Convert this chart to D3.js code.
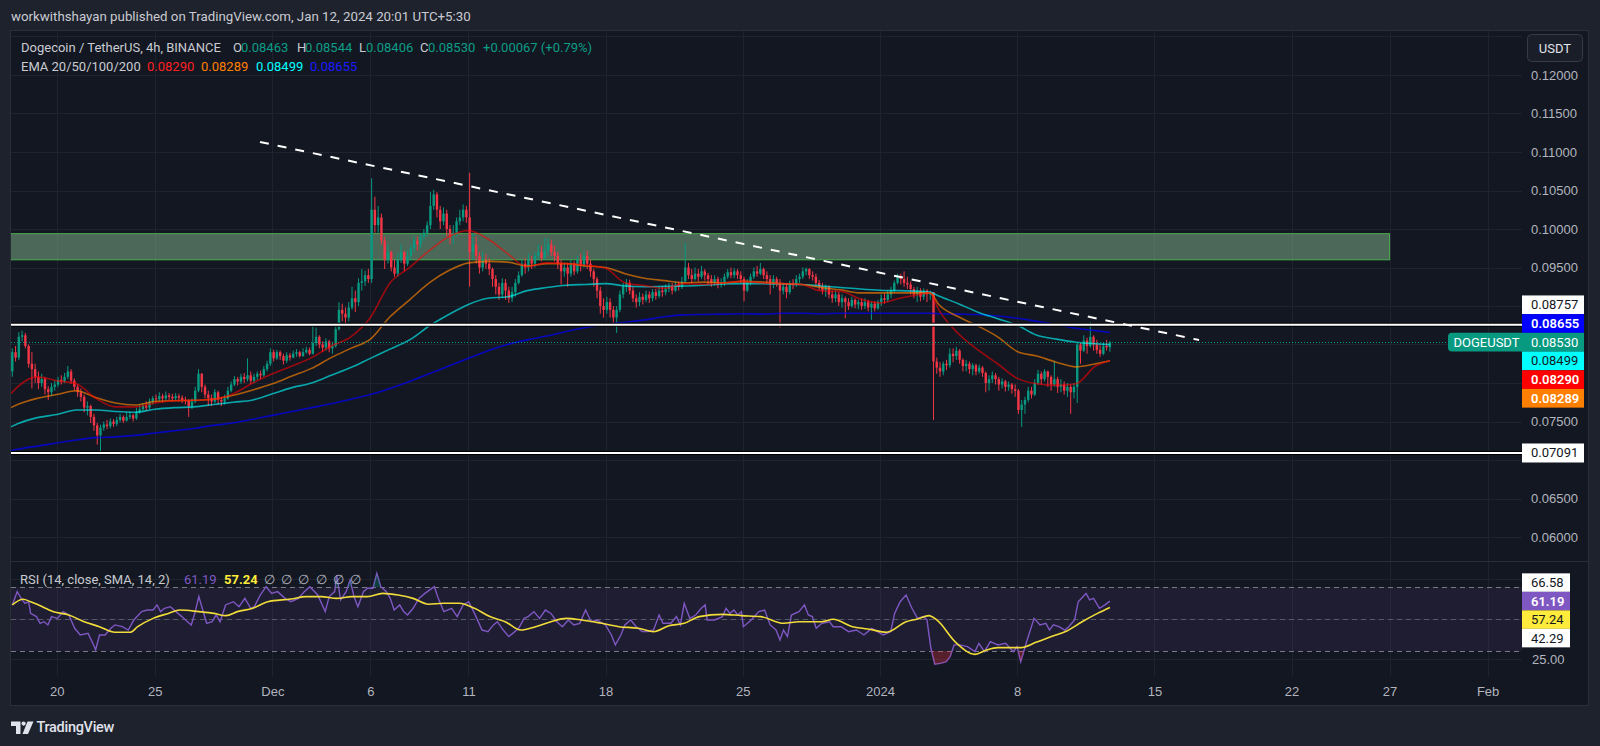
<!DOCTYPE html>
<html><head><meta charset="utf-8">
<script src="https://cdn.jsdelivr.net/npm/d3@7/dist/d3.min.js"></script>
<style>
html,body{margin:0;padding:0;background:#1e222d;overflow:hidden}
svg{display:block;font-family:Roboto,"Noto Sans",sans-serif}
</style></head><body>
<svg id="chart" width="1600" height="746"></svg>
<script>
// ---------------- DATA ----------------
// 4h candles, first bar opens 2023-11-17 17:30 (chart time). Prices in 1e-5 USDT.
const firstBar = Date.UTC(2023,10,17,17,30);
const barHours = 4;
const firstOpen = 8150;
const closes = [
8400,8330,8600,8620,8480,8250,8180,8080,8000,8050,
7920,7880,7950,7980,8040,8020,8080,8150,8030,7950,
7880,7820,7680,7700,7560,7450,7320,7420,7460,7440,
7500,7470,7520,7560,7510,7560,7580,7540,7620,7660,
7700,7680,7760,7800,7790,7830,7800,7840,7820,7800,
7830,7810,7780,7770,7700,7760,7900,8120,7950,7850,
7800,7760,7880,7780,7760,7800,7900,7980,8050,8020,
8080,8050,8100,8030,8080,8120,8100,8180,8250,8400,
8320,8400,8350,8290,8360,8330,8380,8400,8350,8400,
8430,8380,8520,8600,8500,8460,8540,8450,8480,8700,
8950,8900,8850,8980,9100,9050,9300,9320,9400,9350,
10250,10050,10150,9850,9600,9700,9500,9420,9600,9700,
9550,9650,9750,9850,9800,9900,9950,10050,10300,10450,
10250,10100,10200,10000,9900,9950,10100,10150,10250,10150,
9700,9800,9650,9500,9600,9550,9480,9350,9250,9150,
9300,9200,9100,9180,9300,9400,9550,9500,9600,9550,
9650,9700,9620,9720,9800,9700,9650,9550,9450,9500,
9420,9550,9450,9600,9520,9650,9550,9450,9350,9200,
9000,8950,9050,8950,8850,8950,9150,9250,9300,9200,
9100,9050,9120,9080,9150,9100,9180,9130,9200,9180,
9220,9250,9200,9280,9250,9320,9500,9400,9350,9420,
9380,9450,9400,9350,9300,9350,9280,9300,9380,9440,
9400,9450,9400,9350,9200,9300,9380,9450,9420,9480,
9400,9350,9280,9350,9300,9200,9250,9180,9300,9280,
9350,9380,9450,9480,9400,9380,9300,9250,9200,9250,
9150,9100,9150,9050,9100,9050,9000,9080,9020,9050,
9000,9050,8980,9030,8970,9050,9100,9080,9150,9200,
9300,9380,9350,9300,9280,9220,9150,9200,9120,9200,
9150,9180,8280,8200,8150,8250,8230,8380,8350,8420,
8300,8220,8250,8180,8230,8150,8200,8130,8000,8050,
8100,8050,7980,8020,7950,7980,7920,7900,7650,7720,
7780,7900,7850,8000,8120,8050,8150,8080,7980,8050,
7950,7980,7900,7950,7880,7950,8500,8420,8550,8480,
8600,8500,8430,8380,8480,8463,8530];
const highs = [
8450,8480,8660,8680,8650,8500,8400,8250,8150,8120,
8080,7960,8000,8030,8080,8100,8130,8220,8180,8060,
7980,7930,7850,7760,7720,7600,7480,7460,7500,7520,
7540,7530,7560,7600,7580,7620,7630,7600,7680,7720,
7740,7760,7800,7830,7850,7880,7860,7890,7870,7860,
7870,7860,7840,7820,7790,7800,7950,8180,8130,7980,
7900,7850,7920,7900,7820,7850,7950,8020,8090,8080,
8120,8130,8320,8150,8120,8150,8160,8220,8290,8450,
8430,8430,8420,8380,8400,8390,8420,8440,8420,8450,
8470,8460,8750,8720,8620,8540,8580,8560,8520,8760,
9050,9030,8980,9050,9250,9200,9360,9480,9460,9480,
10660,10420,10300,10200,9900,9800,9720,9600,9680,9800,
9720,9720,9800,9900,9900,9950,10000,10100,10480,10510,
10480,10300,10280,10250,10050,10050,10150,10250,10320,10300,
10730,9950,9900,9700,9700,9680,9620,9500,9400,9300,
9360,9350,9250,9250,9350,9450,9600,9620,9680,9650,
9700,9800,9780,9880,9880,9860,9780,9700,9600,9560,
9560,9600,9580,9650,9680,9700,9720,9600,9480,9380,
9250,9100,9120,9100,9000,9000,9200,9300,9350,9340,
9250,9150,9180,9160,9200,9190,9220,9220,9250,9260,
9280,9300,9300,9320,9320,9380,9820,9560,9480,9500,
9480,9520,9480,9430,9400,9400,9380,9360,9420,9480,
9500,9490,9480,9450,9380,9350,9420,9500,9520,9560,
9500,9450,9400,9400,9380,9350,9300,9300,9330,9350,
9400,9420,9500,9500,9490,9450,9420,9340,9300,9280,
9270,9200,9200,9180,9150,9120,9100,9120,9100,9080,
9100,9100,9080,9060,9060,9080,9150,9160,9200,9250,
9330,9420,9420,9450,9380,9320,9250,9250,9230,9230,
9220,9200,9180,8330,8270,8280,8300,8450,8450,8470,
8440,8320,8300,8280,8260,8250,8240,8220,8150,8100,
8150,8130,8080,8060,8040,8020,8000,7980,7920,7780,
7820,7950,7950,8050,8170,8150,8180,8160,8100,8280,
8080,8050,8020,8000,7980,8000,8530,8520,8620,8590,
8790,8620,8560,8500,8520,8560,8544];
const lows = [
8080,8280,8300,8540,8450,8200,7930,8000,7920,7950,
7850,7780,7830,7900,7950,7980,8000,8050,7990,7900,
7820,7760,7620,7580,7480,7380,7200,7110,7380,7400,
7410,7430,7440,7490,7480,7500,7530,7500,7520,7600,
7630,7640,7660,7720,7750,7760,7750,7770,7780,7760,
7770,7760,7740,7720,7560,7660,7740,7880,7880,7800,
7700,7700,7740,7720,7700,7720,7780,7880,7960,7970,
7990,8000,8020,7990,8000,8040,8050,8080,8150,8220,
8280,8300,8300,8240,8260,8290,8320,8340,8330,8340,
8380,8360,8370,8480,8450,8400,8420,8400,8380,8460,
8680,8800,8760,8800,8950,8920,9000,9200,9260,9300,
9300,9950,9950,9800,9480,9550,9450,9380,9380,9560,
9450,9520,9600,9700,9720,9750,9850,9900,10000,10250,
10150,10000,10050,9900,9800,9800,9900,10050,10100,10080,
9250,9600,9550,9420,9450,9480,9400,9250,9150,9080,
9100,9080,9040,9050,9120,9280,9380,9420,9450,9480,
9500,9600,9580,9600,9650,9650,9580,9480,9280,9380,
9250,9380,9400,9420,9450,9500,9480,9380,9250,9100,
8900,8850,8900,8850,8750,8650,8920,9100,9180,9150,
9050,8980,9000,9020,9050,9040,9060,9080,9100,9120,
9140,9180,9150,9180,9200,9220,9300,9350,9300,9330,
9320,9350,9330,9280,9250,9260,9230,9240,9260,9350,
9360,9360,9350,9300,9060,9180,9270,9350,9380,9400,
9350,9300,9150,9230,9250,8720,9150,9100,9150,9220,
9250,9300,9350,9400,9350,9330,9250,9200,9150,9120,
9100,9040,9050,9000,8980,8840,8950,8980,8970,8960,
8950,8960,8930,8820,8930,8950,9000,9030,9050,9100,
9180,9280,9280,9250,9220,9150,9100,9050,9060,9080,
9050,9080,7520,8120,8080,8100,8170,8200,8270,8300,
8250,8150,8150,8120,8100,8100,8120,8080,7880,7900,
8000,7980,7900,7930,7890,7900,7860,7820,7600,7430,
7600,7750,7800,7830,7980,7980,8020,7950,7900,7950,
7870,7880,7850,7820,7600,7800,7740,8250,8400,8380,
8460,8420,8380,8340,8360,8420,8406];

// EMA readings, sampled in days from 2024-01-01 00:00 (1e-5 USDT)
const emaDay = [-44.35,-44,-43,-42,-41,-40,-39,-38,-37,-36,-35,-34,-33,-32,-31,-30,-29,-28,-27,-26,-25,-24,-23,-22,-21,-20,-19,-18,-17,-16,-15,-14,-13,-12,-11,-10,-9,-8,-7,-6,-5,-4,-3,-2,-1,0,1,2,2.55,3,4,5,6,7,8,9,10,11,11.73];
const ema20 = [7860,7950,8080,8030,7990,7800,7690,7690,7740,7770,7775,7790,7860,8000,8120,8220,8330,8480,8600,8850,9300,9500,9720,9900,9980,9870,9680,9510,9560,9550,9530,9490,9300,9265,9230,9290,9280,9300,9320,9300,9290,9280,9195,9190,9090,9040,9100,9150,9170,8950,8640,8430,8250,8060,7990,7970,7990,8220,8290];
const ema50 = [7680,7720,7800,7850,7900,7810,7740,7715,7760,7770,7775,7790,7840,7910,7990,8090,8190,8330,8450,8570,8860,9080,9300,9460,9560,9580,9570,9520,9550,9550,9520,9500,9420,9360,9330,9300,9310,9300,9320,9310,9290,9280,9240,9210,9170,9170,9170,9170,9170,9020,8860,8740,8600,8410,8350,8270,8210,8250,8289];
const ema100 = [7430,7470,7550,7590,7650,7650,7630,7620,7660,7680,7690,7720,7750,7780,7860,7940,8000,8100,8200,8320,8440,8560,8740,8890,9020,9100,9120,9200,9240,9270,9280,9290,9260,9250,9255,9260,9270,9285,9290,9290,9285,9280,9260,9240,9220,9205,9200,9190,9180,9130,9030,8920,8835,8750,8620,8570,8530,8510,8499];
const ema200 = [7120,7140,7180,7220,7260,7290,7300,7320,7350,7380,7410,7450,7480,7530,7580,7630,7680,7730,7790,7850,7930,8020,8120,8220,8320,8420,8500,8560,8610,8670,8720,8760,8790,8820,8860,8885,8890,8895,8900,8895,8905,8905,8900,8905,8905,8905,8905,8905,8905,8900,8895,8890,8870,8840,8800,8760,8710,8680,8655];

// RSI(14) and its SMA(14), sampled at bar index
const rsiBar = [0,1.5,2.7,3.9,5,5.6,7.4,8.5,9.7,10.9,12,13.8,15.6,17.3,19.1,20.8,23.2,24.9,25.5,26.7,28.4,30.2,31.4,33.7,35.5,37.2,39.6,41.3,43.1,44.3,45.4,46.6,48.4,50.1,51.9,53.6,54.8,56,57.1,58.3,59.5,61.2,62.4,63.6,65.3,67.7,69.4,71.2,73,74.1,75.9,77.7,79.4,81.2,83.5,85.3,87.6,89.4,91.1,93.5,95.8,97,98.7,99.3,100.5,102.2,103.4,104.6,105.8,107.5,108.7,110.4,111.6,112.8,114.5,115.7,116.9,118.6,119.8,121,122.7,124.5,126.3,129.2,130.4,132.1,134.5,136.2,138,139.7,141.5,143.8,145.6,147.3,148.5,150.3,152,153.2,155,156.7,157.9,159.7,161.4,163.2,164.9,166.7,168.4,170.2,171.9,173.7,175.5,177.2,179,181.6,183.4,184.6,186.3,187.5,189.3,191,192.8,194.5,196.3,198,199.2,201.6,203.3,204.5,205.7,207.4,209.2,210.9,212.1,212.7,215,217.4,218.5,219.7,220.9,222.1,223.2,223.8,226.2,228.5,230.3,232,233.8,235,236.1,237.3,238.5,240.8,242.5,243.7,244.9,246.1,247.8,250.2,251.3,253.7,256,258.4,260.7,261.9,263.1,266.6,268.9,270.1,271.8,273.6,275.4,277.1,278.9,280,281.2,282.4,284.1,285.9,287.1,288.3,290,292.4,294.7,295.9,297.6,299.4,301.7,304.1,306.4,307.6,308.7,310.5,312.8,314.6,316.4,317.5,318.7,320.4,322.2,323.4,325.2,326.3,328.7,329.8,331,332.8,334.5,336];
const rsiVal = [58.8,67.1,62.9,59.8,60.8,53.5,51.5,47.3,48.3,46.3,51.5,50.4,54.6,52.5,44.2,40,41,33.8,30.6,40,40,44.2,46.3,45.2,43.1,49.4,54.6,55.6,55.6,58.8,54.6,56.7,57.7,54.6,51.5,48.3,46.3,54.6,64,55.6,47.3,48.3,52.5,48.3,58.8,60.8,57.7,62.9,56.7,57.7,65,70.2,66,67.1,62.9,60.8,62.9,67.1,70.2,65,54.6,64,67.1,77.5,61.9,67.1,74.4,64,57.7,67.1,69.2,69.2,78.5,70.2,67.1,62.9,55.6,58.8,54.6,52.5,56.7,62.9,66,70.2,62.9,54.6,56.7,51.5,58.8,60.8,53.5,43.1,42.1,46.3,48.3,43.1,39,41,44.2,50.4,51.5,54.6,50.4,55.6,53.5,48.3,45.2,49.4,46.3,47.3,55.6,48.3,49.4,46.3,40,33.8,40,46.3,49.4,45.2,42.1,42.1,43.1,52.5,47.3,47.3,51.5,46.3,59.8,50.4,52.5,56.7,58.8,49.4,49.4,51.5,56.7,53.5,55.6,52.5,54.6,45.2,49.4,54.6,55.6,46.3,43.1,36.9,43.1,39,52.5,54.6,58.8,52.5,51.5,44.2,47.3,48.3,45.2,45.2,42.1,43.1,40,42.1,44.2,40,42.1,53.5,60.8,65,56.7,50.4,51.5,49.4,31.7,21.7,22.3,23.3,26.5,33.8,33.8,32.7,29.6,34.8,29.6,35.8,33.8,34.8,29.6,32.7,23.3,35.8,50.4,46.3,47.3,43.1,46.3,45.2,43.1,45.2,49.4,60.8,66,61.9,62.9,56.7,58.8,61.19];
const smaBar = [0,3.3,5.6,8,12.6,17.3,22,26.7,31.4,36.1,38.4,43.1,47.8,51.3,57.1,61.8,65.4,68.9,73.6,78.2,85.3,90,94.6,99.3,104,108.7,113.4,118.1,122.7,127.4,132.1,136.8,141.5,146.2,150.9,155.6,160.2,164.9,169.6,174.3,179.9,185.7,191.6,196.3,201,205.7,210.3,217.4,223.2,229.1,236.1,240.8,247.8,251.3,257.2,261.9,267.7,273.6,277.1,280.6,283,288.8,294.7,298.2,301.7,308.7,313.4,318.1,322.8,327.5,332.2,336];
const smaVal = [58.8,62.3,60.8,58.8,54.6,52.5,48.3,45.2,41.7,41.7,45.2,50.4,53.5,55.6,54.6,53.5,52.1,54.6,56.7,60.8,62.5,64,64,62.9,64,64,66,65,62.9,59.2,59.8,59.8,56.7,51.5,48.3,43.1,45.2,48.3,50.4,49.4,47.5,45.2,44.2,42.1,45.8,47.3,51.5,52.9,52.1,51.5,47.3,48.3,48.3,49.8,45.2,43.8,41.7,48.3,50,52.1,49.4,35.4,27.9,30.6,32.1,32.1,35.4,39,42.5,48.3,53.5,57.24];

// axes / annotations
const priceTicks = [0.125,0.12,0.115,0.11,0.105,0.10,0.095,0.09,0.085,0.08,0.075,0.07,0.065,0.06];
const timeTicks = ["2023-11-20","2023-11-25","2023-12-01","2023-12-06","2023-12-11","2023-12-18","2023-12-25","2024-01-01","2024-01-08","2024-01-15","2024-01-22","2024-01-27","2024-02-01"];
const timeLabels = ["20","25","Dec","6","11","18","25","2024","8","15","22","27","Feb"];
const rsiTicks = [75,50,25];
const levelPrices = [0.08757,0.07091];
const zoneDates = ["2023-11-10","2024-01-27"];
const zonePrices = [0.09939,0.0960];
const trendDates = ["2023-11-30T08:50","2024-01-17T06:40"];
const trendPrices = [0.11130,0.08558];
const lastPrice = 0.08530;
const emaLast = [0.08290,0.08289,0.08499,0.08655];
const rsiLast = [66.58,61.19,57.24,42.29];

// ---------------- LAYOUT ----------------
const PL=11, PR=1522, MT=31, MB=561, RT=561, RB=676;
const UP="#089981", DN="#f23645";
const svg=d3.select("#chart");
const DAY=864e5;
const dayDate=t=>new Date(Date.UTC(2024,0,1)+t*DAY);
const barDate=i=>new Date(firstBar+i*barHours*36e5);
const iso=s=>new Date(s+(s.length<=10?"T00:00:00Z":":00Z"));

const x=d3.scaleUtc().domain([new Date(Date.UTC(2024,0,1)),new Date(Date.UTC(2024,0,8))]).range([880,1017.2]);
const y=d3.scaleLinear().domain([0.06,0.12]).range([537,75]);
const yr=d3.scaleLinear().domain([30,70]).range([651,587]);

svg.append("rect").attr("width",1600).attr("height",746).attr("fill","#1e222d");
svg.append("rect").attr("x",10.5).attr("y",30.5).attr("width",1578).attr("height",675).attr("fill","#131722").attr("stroke","#2a2e39");

const defs=svg.append("defs");
const clip=(id,x0,y0,w,h)=>defs.append("clipPath").attr("id",id).append("rect").attr("x",x0).attr("y",y0).attr("width",w).attr("height",h);
clip("cM",PL,MT,PR-PL,MB-MT);
clip("cR",PL,RT,PR-PL,RB-RT);
clip("cHi",PL,RT,PR-PL,yr(70)-RT);
clip("cLo",PL,yr(30),PR-PL,RB-yr(30));

// grid
const GRID="#1f232e";
svg.append("g").selectAll("line").data(timeTicks).join("line")
  .attr("x1",d=>Math.round(x(iso(d)))+.5).attr("x2",d=>Math.round(x(iso(d)))+.5)
  .attr("y1",MT).attr("y2",RB).attr("stroke",GRID);
const main=svg.append("g").attr("clip-path","url(#cM)");
main.append("g").selectAll("line").data(priceTicks).join("line")
  .attr("x1",PL).attr("x2",PR).attr("y1",d=>Math.round(y(d))+.5).attr("y2",d=>Math.round(y(d))+.5).attr("stroke",GRID);
svg.append("g").selectAll("line").data(rsiTicks).join("line")
  .attr("x1",PL).attr("x2",PR).attr("y1",d=>Math.round(yr(d))+.5).attr("y2",d=>Math.round(yr(d))+.5).attr("stroke",GRID);
svg.append("line").attr("x1",PL).attr("x2",1588).attr("y1",MB+.5).attr("y2",MB+.5).attr("stroke","#2a2e39");

// zone
main.append("rect").attr("x",x(iso(zoneDates[0]))).attr("width",x(iso(zoneDates[1]))-x(iso(zoneDates[0])))
  .attr("y",y(zonePrices[0])).attr("height",y(zonePrices[1])-y(zonePrices[0]))
  .attr("fill","rgba(134,186,141,0.5)").attr("stroke","#4caf50").attr("stroke-width",1);

// candles
const bars=closes.map((c,i)=>{
  const o=i===0?firstOpen:closes[i-1];
  return {t:barDate(i),o:o*1e-5,c:c*1e-5,h:Math.max(highs[i],o,c)*1e-5,l:Math.min(lows[i],o,c)*1e-5};
});
const cg=main.append("g");
cg.selectAll("line").data(bars).join("line")
  .attr("x1",d=>x(d.t)).attr("x2",d=>x(d.t)).attr("y1",d=>y(d.h)).attr("y2",d=>y(d.l))
  .attr("stroke",d=>d.c>=d.o?UP:DN).attr("stroke-width",1);
cg.selectAll("rect").data(bars).join("rect")
  .attr("x",d=>x(d.t)-1.2).attr("width",2.4)
  .attr("y",d=>y(Math.max(d.o,d.c))).attr("height",d=>Math.max(1,Math.abs(y(d.o)-y(d.c))))
  .attr("fill",d=>d.c>=d.o?UP:DN);

// EMAs
const emaSeries=[[ema200,"rgba(0,0,255,0.7)"],[ema100,"rgba(0,255,255,0.62)"],[ema50,"rgba(255,130,0,0.65)"],[ema20,"rgba(255,0,0,0.58)"]];
const eLine=d3.line().x(d=>x(dayDate(d[0]))).y(d=>y(d[1]*1e-5)).curve(d3.curveMonotoneX);
emaSeries.forEach(([arr,col])=>{
  main.append("path").attr("d",eLine(emaDay.map((t,k)=>[t,arr[k]]))).attr("fill","none").attr("stroke",col).attr("stroke-width",1.6);
});

// horizontal levels
levelPrices.forEach(p=>{
  main.append("line").attr("x1",PL).attr("x2",PR).attr("y1",y(p)).attr("y2",y(p)).attr("stroke","#000").attr("stroke-width",4);
  main.append("line").attr("x1",PL).attr("x2",PR).attr("y1",y(p)).attr("y2",y(p)).attr("stroke","#fff").attr("stroke-width",2);
});
// trend line
main.append("line").attr("x1",x(iso(trendDates[0]))).attr("y1",y(trendPrices[0]))
  .attr("x2",x(iso(trendDates[1]))).attr("y2",y(trendPrices[1]))
  .attr("stroke","#fff").attr("stroke-width",2).attr("stroke-dasharray","9 9");
// last price line
svg.append("line").attr("x1",PL).attr("x2",1448).attr("y1",Math.round(y(lastPrice))+.5).attr("y2",Math.round(y(lastPrice))+.5)
  .attr("stroke",UP).attr("stroke-width",1).attr("stroke-dasharray","1 2");

// RSI pane
const rp=svg.append("g").attr("clip-path","url(#cR)");
rp.append("rect").attr("x",PL).attr("width",PR-PL).attr("y",yr(70)).attr("height",yr(30)-yr(70)).attr("fill","rgba(126,87,194,0.1)");
[[70,"#787b86"],[50,"rgba(120,123,134,0.6)"],[30,"#787b86"]].forEach(([v,c])=>{
  rp.append("line").attr("x1",PL).attr("x2",PR).attr("y1",Math.round(yr(v))+.5).attr("y2",Math.round(yr(v))+.5)
   .attr("stroke",c).attr("stroke-dasharray","5 4");
});
const rpts=rsiBar.map((b,k)=>[b,rsiVal[k]]);
const rx=d=>x(barDate(d[0]));
svg.append("path").attr("clip-path","url(#cLo)").attr("d",d3.area().x(rx).y0(yr(30)).y1(d=>yr(d[1]))(rpts)).attr("fill","rgba(242,54,69,0.3)");
svg.append("path").attr("clip-path","url(#cHi)").attr("d",d3.area().x(rx).y0(yr(70)).y1(d=>yr(d[1]))(rpts)).attr("fill","rgba(8,153,129,0.3)");
rp.append("path").attr("d",d3.line().x(rx).y(d=>yr(d[1]))(rpts)).attr("fill","none").attr("stroke","#7e57c2").attr("stroke-width",1.4);
rp.append("path").attr("d",d3.line().x(rx).y(d=>yr(d[1])).curve(d3.curveMonotoneX)(smaBar.map((b,k)=>[b,smaVal[k]])))
  .attr("fill","none").attr("stroke","#f2dc3a").attr("stroke-width",1.6);

// ---------------- RIGHT-AXIS LABEL BOXES ----------------
function stack(items,h){
  const f=items.findIndex(d=>d.fixed);
  items.forEach(d=>d.yc=d.y);
  for(let j=f-1;j>=0;j--) items[j].yc=Math.min(items[j].y,items[j+1].yc-h);
  for(let j=f+1;j<items.length;j++) items[j].yc=Math.max(items[j].y,items[j-1].yc+h);
  return items;
}
const PH=18.7, RH=18.5;
const pLabels=stack([
  {v:levelPrices[0],bg:"#ffffff",fg:"#131722"},
  {v:emaLast[3],bg:"#0000ff",fg:"#ffffff",bold:1},
  {v:lastPrice,bg:UP,fg:"#ffffff",fixed:1},
  {v:emaLast[2],bg:"#00ffff",fg:"#131722"},
  {v:emaLast[0],bg:"#ff0000",fg:"#ffffff",bold:1},
  {v:emaLast[1],bg:"#ff7f00",fg:"#ffffff",bold:1}
].map(d=>({...d,y:y(d.v),txt:d3.format(".5f")(d.v)})),PH);
const lowBox={yc:y(levelPrices[1]),bg:"#ffffff",fg:"#131722",txt:d3.format(".5f")(levelPrices[1])};
const rLabels=stack([
  {v:rsiLast[0],bg:"#ffffff",fg:"#131722"},
  {v:rsiLast[1],bg:"#7e57c2",fg:"#ffffff",fixed:1,bold:1},
  {v:rsiLast[2],bg:"#ffeb3b",fg:"#131722"},
  {v:rsiLast[3],bg:"#ffffff",fg:"#131722"}
].map(d=>({...d,y:yr(d.v),txt:d3.format(".2f")(d.v)})),RH);

// axis tick labels that a label box covers are hidden (as the platform does)
const pBoxes=[...pLabels,lowBox].map(d=>d.yc);
const freeP=v=>pBoxes.every(c=>Math.abs(y(v)-c)>PH/2+6);
const freeR=v=>rLabels.every(d=>Math.abs(yr(v)-d.yc)>RH/2+6);

// ---------------- AXES ----------------
const AX="#b2b5be";
const pa=svg.append("g").attr("transform",`translate(${PR},0)`)
  .call(d3.axisRight(y).tickValues(priceTicks.filter(v=>v<=0.12&&freeP(v))).tickFormat(d3.format(".5f")).tickSize(0).tickPadding(9));
pa.select(".domain").remove();
pa.selectAll("text").attr("fill",AX).attr("font-size",13);
const ra=svg.append("g").attr("transform",`translate(${PR},0)`)
  .call(d3.axisRight(yr).tickValues(rsiTicks.filter(freeR)).tickFormat(d3.format(".2f")).tickSize(0).tickPadding(10));
ra.select(".domain").remove();
ra.selectAll("text").attr("fill",AX).attr("font-size",13);
const ta=svg.append("g").attr("transform",`translate(0,${RB})`)
  .call(d3.axisBottom(x).tickValues(timeTicks.map(iso)).tickFormat((d,i)=>timeLabels[i]).tickSize(0).tickPadding(11));
ta.select(".domain").remove();
ta.selectAll("text").attr("fill",AX).attr("font-size",13);

function box(d,w,h){
  svg.append("rect").attr("x",PR).attr("y",d.yc-h/2).attr("width",w).attr("height",h).attr("fill",d.bg);
  svg.append("text").attr("x",PR+9).attr("y",d.yc).attr("dominant-baseline","central").attr("font-size",13)
    .attr("fill",d.fg).attr("font-weight",d.bold?600:400).text(d.txt);
}
pLabels.forEach(d=>box(d,62,PH));
const lp=pLabels.find(d=>d.fixed);
svg.append("path").attr("d",`M${PR},${lp.yc-PH/2}H1452a4,4 0 0 0 -4,4V${lp.yc+PH/2-4}a4,4 0 0 0 4,4H${PR}Z`).attr("fill",UP);
svg.append("text").attr("x",1453.5).attr("y",lp.yc).attr("dominant-baseline","central").attr("font-size",13).attr("fill","#fff").text("DOGEUSDT");
box(lowBox,62,19);
rLabels.forEach(d=>box(d,48,RH));

// USDT button
svg.append("rect").attr("x",1527.5).attr("y",34.5).attr("width",55).attr("height",27).attr("rx",4)
  .attr("fill","#1a1e29").attr("stroke","#363a45");
svg.append("text").attr("x",1555).attr("y",48).attr("text-anchor","middle").attr("dominant-baseline","central")
  .attr("font-size",13).attr("fill","#e0e3eb").text("USDT");

// ---------------- TEXT ----------------
svg.append("text").attr("x",11).attr("y",16).attr("dominant-baseline","central").attr("font-size",13.3).attr("fill","#c9cbd1")
  .text("workwithshayan published on TradingView.com, Jan 12, 2024 20:01 UTC+5:30");
const L1=svg.append("text").attr("y",47).attr("dominant-baseline","central").attr("font-size",13).attr("fill","#c9cbd1");
const G="#0c9d86";
[["Dogecoin / TetherUS, 4h, BINANCE",21,"#c9cbd1"],["O",233,"#c9cbd1"],["0.08463",241,G],["H",297,"#c9cbd1"],["0.08544",305,G],
 ["L",359,"#c9cbd1"],["0.08406",366,G],["C",420,"#c9cbd1"],["0.08530",428,G],["+0.00067 (+0.79%)",483,G]]
 .forEach(([t,xx,c])=>L1.append("tspan").attr("x",xx).attr("fill",c).text(t));
const L2=svg.append("text").attr("y",66).attr("dominant-baseline","central").attr("font-size",13);
[["EMA 20/50/100/200",21,"#c9cbd1"],["0.08290",147,"#ff2020"],["0.08289",201,"#ff7f00"],["0.08499",256,"#00ffff"],["0.08655",310,"#1a1aff"]]
 .forEach(([t,xx,c])=>L2.append("tspan").attr("x",xx).attr("fill",c).text(t));
const L3=svg.append("text").attr("y",579).attr("dominant-baseline","central").attr("font-size",13);
[["RSI (14, close, SMA, 14, 2)",20,"#c9cbd1"],["61.19",184,"#7e57c2"],["57.24",224,"#ffeb3b"],
 ["∅",264,"#b2b5be"],["∅",281,"#b2b5be"],["∅",298,"#b2b5be"],["∅",316,"#b2b5be"],["∅",333,"#b2b5be"],["∅",350,"#b2b5be"]]
 .forEach(([t,xx,c])=>L3.append("tspan").attr("x",xx).attr("fill",c).attr("font-weight",t==="57.24"?700:400).text(t));

// TradingView logo
const lg=svg.append("g").attr("fill","#e0e3eb");
lg.append("path").attr("d","M11,721.5H20.5V734H16V726H11Z");
lg.append("circle").attr("cx",23.6).attr("cy",723.6).attr("r",2.1);
lg.append("path").attr("d","M27.5,721.5H33.5L28,734H22.5Z");
svg.append("text").attr("x",36.5).attr("y",727.5).attr("dominant-baseline","central").attr("font-size",14.5)
  .attr("font-weight",500).attr("fill","#e0e3eb").attr("letter-spacing",-0.3).text("TradingView");
</script></body></html>
